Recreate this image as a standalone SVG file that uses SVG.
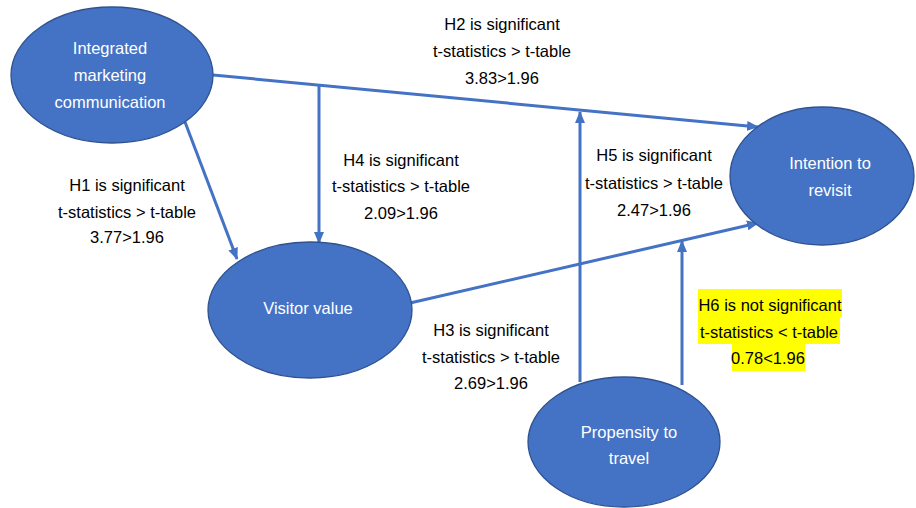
<svg xmlns="http://www.w3.org/2000/svg" width="916" height="508" viewBox="0 0 916 508">
<style>
.node{fill:#4472C4;stroke:#2F528F;stroke-width:1.3}
.nt{fill:#FFFFFF;font-family:"Liberation Sans",Arial,sans-serif;font-size:16.5px;text-anchor:middle}
.lb{fill:#000000;font-family:"Liberation Sans",Arial,sans-serif;font-size:16.5px;text-anchor:middle}
.edge{stroke:#4472C4;stroke-width:3;fill:none;marker-end:url(#arr)}
.hl{fill:#FFFF00}
</style>
<defs>
<marker id="arr" markerUnits="userSpaceOnUse" markerWidth="12" markerHeight="10" refX="11" refY="5" orient="auto">
<path d="M0,0 L12,5 L0,10 Z" fill="#4472C4"/>
</marker>
</defs>
<rect width="916" height="508" fill="#FFFFFF"/>
<g id="connectors">
<line class="edge" x1="213" y1="75" x2="758" y2="127"/>
<line class="edge" x1="319" y1="84" x2="319" y2="243"/>
<line class="edge" x1="185" y1="122" x2="237" y2="259"/>
<line class="edge" x1="410" y1="303" x2="758" y2="223"/>
<line class="edge" x1="580" y1="382" x2="580" y2="112"/>
<line class="edge" x1="682" y1="385" x2="682" y2="241"/>
</g>
<g id="imc">
<ellipse class="node" cx="112" cy="75" rx="101" ry="68"/>
<text class="nt" x="110" y="54">Integrated</text>
<text class="nt" x="110" y="81">marketing</text>
<text class="nt" x="110" y="108">communication</text>
</g>
<g id="visitor-value">
<ellipse class="node" cx="310" cy="310" rx="102" ry="68"/>
<text class="nt" x="308" y="314">Visitor value</text>
</g>
<g id="intention">
<ellipse class="node" cx="822" cy="176" rx="92" ry="69"/>
<text class="nt" x="830" y="169">Intention to</text>
<text class="nt" x="830" y="196">revisit</text>
</g>
<g id="propensity">
<ellipse class="node" cx="624" cy="442" rx="96" ry="65"/>
<text class="nt" x="629" y="438">Propensity to</text>
<text class="nt" x="629" y="464">travel</text>
</g>
<g id="labels">
<text class="lb" x="502" y="30">H2 is significant</text>
<text class="lb" x="502" y="57">t-statistics &gt; t-table</text>
<text class="lb" x="502" y="84">3.83&gt;1.96</text>
<text class="lb" x="127" y="191">H1 is significant</text>
<text class="lb" x="127" y="218">t-statistics &gt; t-table</text>
<text class="lb" x="127" y="243">3.77&gt;1.96</text>
<text class="lb" x="401" y="166">H4 is significant</text>
<text class="lb" x="401" y="192">t-statistics &gt; t-table</text>
<text class="lb" x="401" y="219">2.09&gt;1.96</text>
<text class="lb" x="654" y="161">H5 is significant</text>
<text class="lb" x="654" y="189">t-statistics &gt; t-table</text>
<text class="lb" x="654" y="216">2.47&gt;1.96</text>
<text class="lb" x="491" y="336">H3 is significant</text>
<text class="lb" x="491" y="363">t-statistics &gt; t-table</text>
<text class="lb" x="491" y="389">2.69&gt;1.96</text>
<rect class="hl" x="698" y="289" width="144" height="28"/>
<rect class="hl" x="698" y="317" width="142" height="27"/>
<rect class="hl" x="732" y="344" width="73" height="27"/>
<text class="lb" x="770" y="311">H6 is not significant</text>
<text class="lb" x="769" y="338">t-statistics &lt; t-table</text>
<text class="lb" x="768" y="364">0.78&lt;1.96</text>
</g>
</svg>
